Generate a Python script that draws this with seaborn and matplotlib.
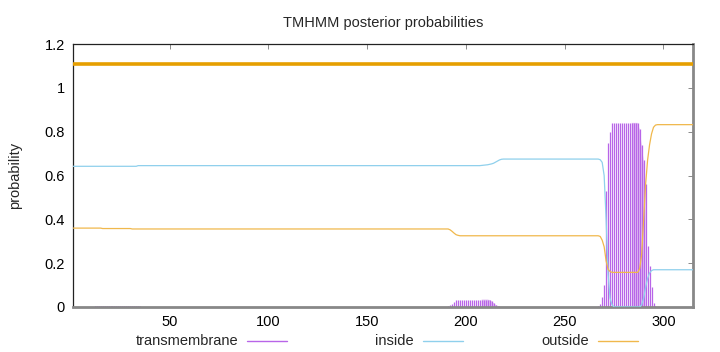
import numpy as np
import pandas as pd
import matplotlib
matplotlib.use("Agg")
import matplotlib.pyplot as plt
from matplotlib.lines import Line2D
import seaborn as sns

# ---------------- data ----------------
positions = list(range(1, 316))

inside = ([0.642] * 33 + [0.645] * 174 +
          [0.646, 0.647, 0.648, 0.649, 0.651, 0.653, 0.656, 0.661, 0.666, 0.671, 0.674] +
          [0.675] * 49 +
          [0.672, 0.660, 0.600, 0.400, 0.150, 0.040, 0.010] +
          [0.000] * 14 +
          [0.010, 0.040, 0.090, 0.130, 0.155, 0.166, 0.170] +
          [0.170] * 20)

outside = ([0.360] * 15 + [0.358] * 15 + [0.356] * 161 +
           [0.352, 0.345, 0.337, 0.330, 0.327, 0.325] +
           [0.325] * 70 +
           [0.322, 0.305, 0.275, 0.210, 0.172, 0.162] +
           [0.158] * 14 +
           [0.175, 0.240, 0.400, 0.560, 0.670, 0.740, 0.790, 0.820, 0.830] +
           [0.832] * 19)

transmembrane = ([0.000] * 11 + [0.004] * 24 + [0.000] * 154 +
                 [0.002, 0.006, 0.010, 0.015, 0.024, 0.032] +
                 [0.034] * 16 +
                 [0.032, 0.026, 0.018, 0.010, 0.006, 0.003, 0.001] +
                 [0.001] * 7 + [0.000] * 41 +
                 [0.003, 0.015, 0.045, 0.100, 0.530, 0.750, 0.800] +
                 [0.840] * 14 +
                 [0.810, 0.740, 0.670, 0.560, 0.280, 0.185, 0.090, 0.020, 0.003] +
                 [0.000] * 19)

topology = [1.11] * 315   # predicted topology line (outside)

x_ticks = [50, 100, 150, 200, 250, 300]
y_ticks = [0, 0.2, 0.4, 0.6, 0.8, 1.0, 1.2]
y_tick_labels = ["0", "0.2", "0.4", "0.6", "0.8", "1", "1.2"]
legend_labels = ["transmembrane", "inside", "outside"]

df = pd.DataFrame({"pos": positions, "inside": inside, "outside": outside,
                   "tm": transmembrane, "topology": topology})

# ---------------- style ----------------
sns.set_theme(style="white")
plt.rcParams["font.family"] = ["Liberation Sans", "DejaVu Sans"]

C_TM = "#b865e8"
C_TM_FILL = "#e3c3f3"
C_IN = "#8fd0ec"
C_OUT = "#f0b84c"
C_TOP = "#e69f00"
FS = 10.5

fig = plt.figure(figsize=(7.2, 3.52), dpi=100)
ax = fig.add_axes([73 / 720, 45 / 352, 620 / 720, 263 / 352])

# light shading where the impulses are rendered densely
pos_arr = df["pos"].to_numpy()
shade = ((pos_arr >= 12) & (pos_arr <= 35)) | ((pos_arr >= 208) & (pos_arr <= 216)) | \
        ((pos_arr >= 284) & (pos_arr <= 291))
ax.fill_between(pos_arr, 0, df["tm"], where=shade, color=C_TM_FILL, lw=0, zorder=1)
ax.vlines(df["pos"], 0, df["tm"], color=C_TM, lw=0.9, zorder=2)

sns.lineplot(data=df, x="pos", y="inside", ax=ax, color=C_IN, lw=0.9, zorder=3)
sns.lineplot(data=df, x="pos", y="outside", ax=ax, color=C_OUT, lw=0.9, zorder=3)
sns.lineplot(data=df, x="pos", y="topology", ax=ax, color=C_TOP, lw=2.6, zorder=4)

ax.set_xlim(1, 315)
ax.set_ylim(0, 1.2)
ax.set_xticks(x_ticks)
ax.set_xticklabels([str(t) for t in x_ticks])
ax.set_yticks(y_ticks)
ax.set_yticklabels(y_tick_labels)
ax.tick_params(direction="in", length=3.5, width=0.6, color="#777777",
               top=True, right=True, labelsize=FS, pad=6, labelcolor="black")
ax.set_xlabel("")
ax.set_ylabel("probability", fontsize=FS, labelpad=16)
ax.set_title("TMHMM posterior probabilities", fontsize=FS, pad=12)

for side in ["left", "top"]:
    ax.spines[side].set_color("#222222")
    ax.spines[side].set_linewidth(0.9)
for side in ["bottom", "right"]:
    ax.spines[side].set_color("#888888")
    ax.spines[side].set_linewidth(2.0)

# legend below the plot (text before line, gnuplot style)
legend_colors = [C_TM, C_IN, C_OUT]
text_right = [238, 414, 589]
for lab, col, tr in zip(legend_labels, legend_colors, text_right):
    fig.text(tr / 720, 1 - 341 / 352, lab, ha="right", va="center", fontsize=FS)
    fig.add_artist(Line2D([(tr + 9) / 720, (tr + 49) / 720],
                          [1 - 341 / 352, 1 - 341 / 352],
                          color=col, lw=1.0, transform=fig.transFigure))

fig.savefig("out.png", dpi=100)
